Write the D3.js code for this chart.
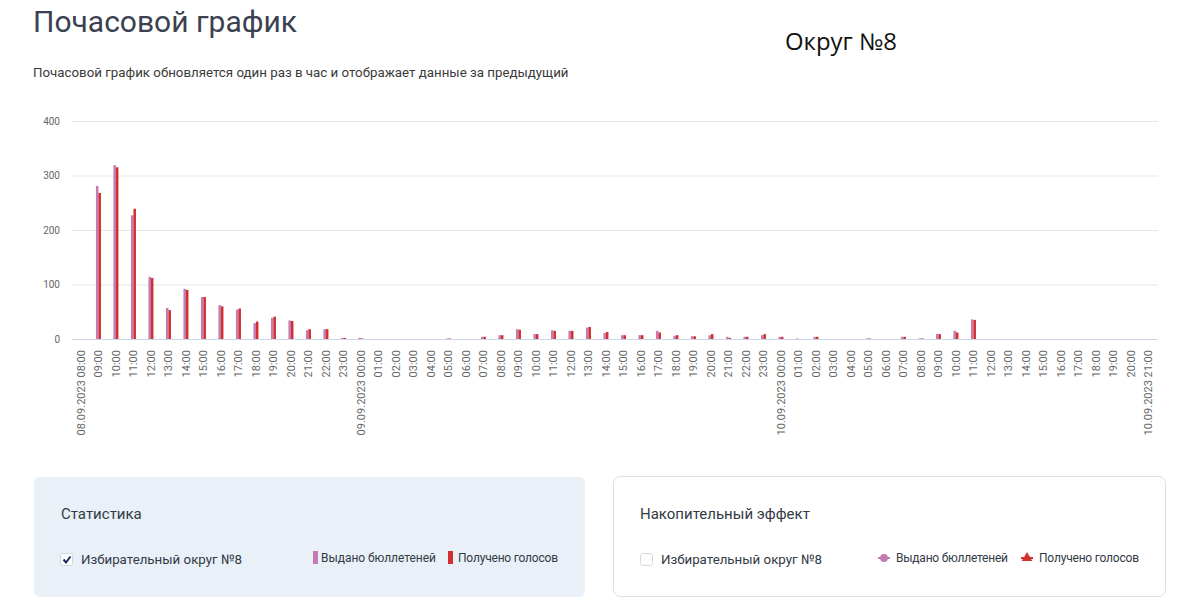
<!DOCTYPE html>
<html lang="ru">
<head>
<meta charset="utf-8">
<title>Почасовой график</title>
<script src="https://cdn.jsdelivr.net/npm/d3@7"></script>
<style>
    html, body { margin: 0; padding: 0; background: #fff; }
    svg { display: block; font-family: Roboto, "Noto Sans", sans-serif; }
</style>
</head>
<body>
<svg id="chart"></svg>
<script>

// hourly categories, 08.09.2023 08:00 .. 10.09.2023 21:00
const hours = [
    '08.09.2023 08:00', '09:00', '10:00', '11:00', '12:00', '13:00', '14:00', '15:00',
    '16:00', '17:00', '18:00', '19:00', '20:00', '21:00', '22:00', '23:00',
    '09.09.2023 00:00', '01:00', '02:00', '03:00', '04:00', '05:00', '06:00', '07:00',
    '08:00', '09:00', '10:00', '11:00', '12:00', '13:00', '14:00', '15:00',
    '16:00', '17:00', '18:00', '19:00', '20:00', '21:00', '22:00', '23:00',
    '10.09.2023 00:00', '01:00', '02:00', '03:00', '04:00', '05:00', '06:00', '07:00',
    '08:00', '09:00', '10:00', '11:00', '12:00', '13:00', '14:00', '15:00',
    '16:00', '17:00', '18:00', '19:00', '20:00', '10.09.2023 21:00'
];

// Выдано бюллетеней
const issued = [
    0, 281, 319, 227, 114, 57, 92, 77, 62, 54, 29, 39, 34, 16, 18, 2,
    2, 0, 0, 0, 0, 1, 0, 4, 7, 18, 9, 16, 15, 21, 11, 7, 7, 15, 6, 5, 7, 4, 4, 7,
    4, 1, 4, 0, 0, 1, 0, 4, 1, 9, 15, 36, 0, 0, 0, 0, 0, 0, 0, 0, 0, 0
];

// Получено голосов
const received = [
    0, 268, 315, 239, 112, 53, 90, 77, 60, 56, 32, 41, 33, 18, 18, 2,
    1, 0, 0, 0, 0, 1, 0, 4, 7, 17, 9, 15, 15, 22, 13, 7, 7, 12, 7, 5, 9, 2, 4, 9,
    4, 0, 4, 0, 0, 1, 0, 4, 1, 9, 12, 35, 0, 0, 0, 0, 0, 0, 0, 0, 0, 0
];

const yTicks = [0, 100, 200, 300, 400];

const seriesNames = ['Выдано бюллетеней', 'Получено голосов'];
const seriesColors = ['#c27bb3', '#d32f2f'];

class HourlyChart {

    constructor(_config) {
        this.config = {
            parentElement: _config.parentElement,
            width: _config.width || 1180,
            height: _config.height || 614,
            plot: {left: 72, right: 1157, top: 121, bottom: 339}
        };
        this.initVis();
    }

    initVis() {
        let vis = this;

        vis.svg = d3.select(vis.config.parentElement)
            .attr('width', vis.config.width)
            .attr('height', vis.config.height);

        vis.x = d3.scaleBand()
            .domain(d3.range(hours.length))
            .range([vis.config.plot.left, vis.config.plot.right]);

        vis.x1 = d3.scaleBand()
            .domain([0, 1])
            .range([-2.3, 2.7]);

        vis.y = d3.scaleLinear()
            .domain([0, 400])
            .range([vis.config.plot.bottom, vis.config.plot.top]);
    }

    render() {
        let vis = this;
        const p = vis.config.plot;

        // header
        vis.svg.append('text')
            .attr('x', 33).attr('y', 32)
            .attr('font-size', 30)
            .attr('fill', '#3b4151')
            .text('Почасовой график');

        vis.svg.append('text')
            .attr('x', 33).attr('y', 77)
            .attr('font-size', 13.3)
            .attr('fill', '#3a3a3a')
            .text('Почасовой график обновляется один раз в час и отображает данные за предыдущий');

        vis.svg.append('text')
            .attr('x', 785).attr('y', 50)
            .attr('font-family', '"Open Sans", sans-serif')
            .attr('font-size', 23)
            .attr('fill', '#111')
            .attr('textLength', 112)
            .attr('lengthAdjust', 'spacingAndGlyphs')
            .text('Округ №8');

        // grid + y labels
        const yAxis = vis.svg.append('g')
            .attr('transform', `translate(${p.left},0)`)
            .call(d3.axisLeft(vis.y).tickValues(yTicks).tickSize(-(p.right - p.left + 1)).tickPadding(12));
        yAxis.select('.domain').remove();
        yAxis.selectAll('.tick line').attr('stroke', '#e6e6e6');
        yAxis.selectAll('.tick text')
            .attr('fill', '#666')
            .attr('font-size', 10)
            .attr('font-family', 'Roboto, sans-serif');

        // bars
        const groups = vis.svg.append('g')
            .selectAll('g')
            .data(hours.map((h, i) => [issued[i], received[i]]))
            .join('g')
            .attr('transform', (d, i) => `translate(${vis.x(i) + vis.x.bandwidth() / 2},0)`);

        groups.selectAll('rect')
            .data(d => d)
            .join('rect')
            .attr('x', (d, k) => vis.x1(k))
            .attr('width', vis.x1.bandwidth())
            .attr('y', d => vis.y(d))
            .attr('height', d => vis.y(0) - vis.y(d))
            .attr('fill', (d, k) => seriesColors[k]);

        // x axis
        const xAxis = vis.svg.append('g')
            .attr('transform', `translate(0,${p.bottom})`)
            .call(d3.axisBottom(vis.x).tickSize(0).tickFormat(i => hours[i]));
        xAxis.select('.domain').attr('stroke', '#ccd6eb').attr('d', `M${p.left},0.5H${p.right + 1}`);
        xAxis.selectAll('.tick text')
            .attr('fill', '#666')
            .attr('font-size', 11)
            .attr('font-family', 'Roboto, sans-serif')
            .attr('text-anchor', 'end')
            .attr('transform', 'rotate(-90)')
            .attr('x', -11)
            .attr('y', 0)
            .attr('dy', '0.35em');

        vis.renderPanels();
    }

    renderPanels() {
        let vis = this;

        // left panel: Статистика
        vis.svg.append('rect')
            .attr('x', 34).attr('y', 477)
            .attr('width', 551).attr('height', 120)
            .attr('rx', 6)
            .attr('fill', '#e9f0f8');

        // right panel: Накопительный эффект
        vis.svg.append('rect')
            .attr('x', 613.5).attr('y', 476.5)
            .attr('width', 552).attr('height', 120)
            .attr('rx', 7)
            .attr('fill', '#fff')
            .attr('stroke', '#dcdfe4');

        const heading = [
            {x: 61, text: 'Статистика'},
            {x: 640, text: 'Накопительный эффект'}
        ];
        vis.svg.append('g')
            .selectAll('text')
            .data(heading)
            .join('text')
            .attr('x', d => d.x).attr('y', 519)
            .attr('font-size', 15)
            .attr('fill', '#333a45')
            .text(d => d.text);

        // checkboxes
        vis.svg.append('rect')
            .attr('x', 60.5).attr('y', 553.5)
            .attr('width', 12).attr('height', 12).attr('rx', 2)
            .attr('fill', '#fff').attr('stroke', '#d0d6de');
        vis.svg.append('path')
            .attr('d', 'M63.5,559.5 L66,562.5 L70.5,556.5')
            .attr('fill', 'none')
            .attr('stroke', '#1b2a5c')
            .attr('stroke-width', 2);

        vis.svg.append('rect')
            .attr('x', 640.5).attr('y', 553.5)
            .attr('width', 12).attr('height', 12).attr('rx', 3)
            .attr('fill', '#fff').attr('stroke', '#d0d6de');

        vis.svg.append('g')
            .selectAll('text')
            .data([81, 661])
            .join('text')
            .attr('x', d => d).attr('y', 564)
            .attr('font-size', 13.3)
            .attr('fill', '#333a45')
            .text('Избирательный округ №8');

        // legend: bars
        const barLegend = [
            {x: 313, tx: 321},
            {x: 448, tx: 458}
        ];
        vis.svg.append('g')
            .selectAll('rect')
            .data(barLegend)
            .join('rect')
            .attr('x', d => d.x).attr('y', 551)
            .attr('width', 5).attr('height', 13)
            .attr('fill', (d, i) => seriesColors[i]);

        vis.svg.append('g')
            .selectAll('text')
            .data(barLegend)
            .join('text')
            .attr('x', d => d.tx).attr('y', 562)
            .attr('font-size', 12)
            .attr('fill', '#333a45')
            .attr('textLength', (d, i) => i === 0 ? 115 : 100)
            .text((d, i) => seriesNames[i]);

        // legend: lines with markers
        const lineLegend = [
            {cx: 884, tx: 896, symbol: d3.symbolCircle},
            {cx: 1027, tx: 1039, symbol: d3.symbolTriangle}
        ];
        const items = vis.svg.append('g')
            .selectAll('g')
            .data(lineLegend)
            .join('g')
            .attr('transform', d => `translate(${d.cx},558)`);

        items.append('line')
            .attr('x1', -6).attr('x2', 6)
            .attr('stroke', (d, i) => seriesColors[i])
            .attr('stroke-width', 2);
        items.append('path')
            .attr('d', d => d3.symbol().type(d.symbol).size(48)())
            .attr('fill', (d, i) => seriesColors[i]);

        vis.svg.append('g')
            .selectAll('text')
            .data(lineLegend)
            .join('text')
            .attr('x', d => d.tx).attr('y', 562)
            .attr('font-size', 12)
            .attr('fill', '#333a45')
            .attr('textLength', (d, i) => i === 0 ? 112 : 100)
            .text((d, i) => seriesNames[i]);
    }
}

const chart = new HourlyChart({parentElement: '#chart', width: 1180, height: 614});
chart.render();

</script>
</body>
</html>
